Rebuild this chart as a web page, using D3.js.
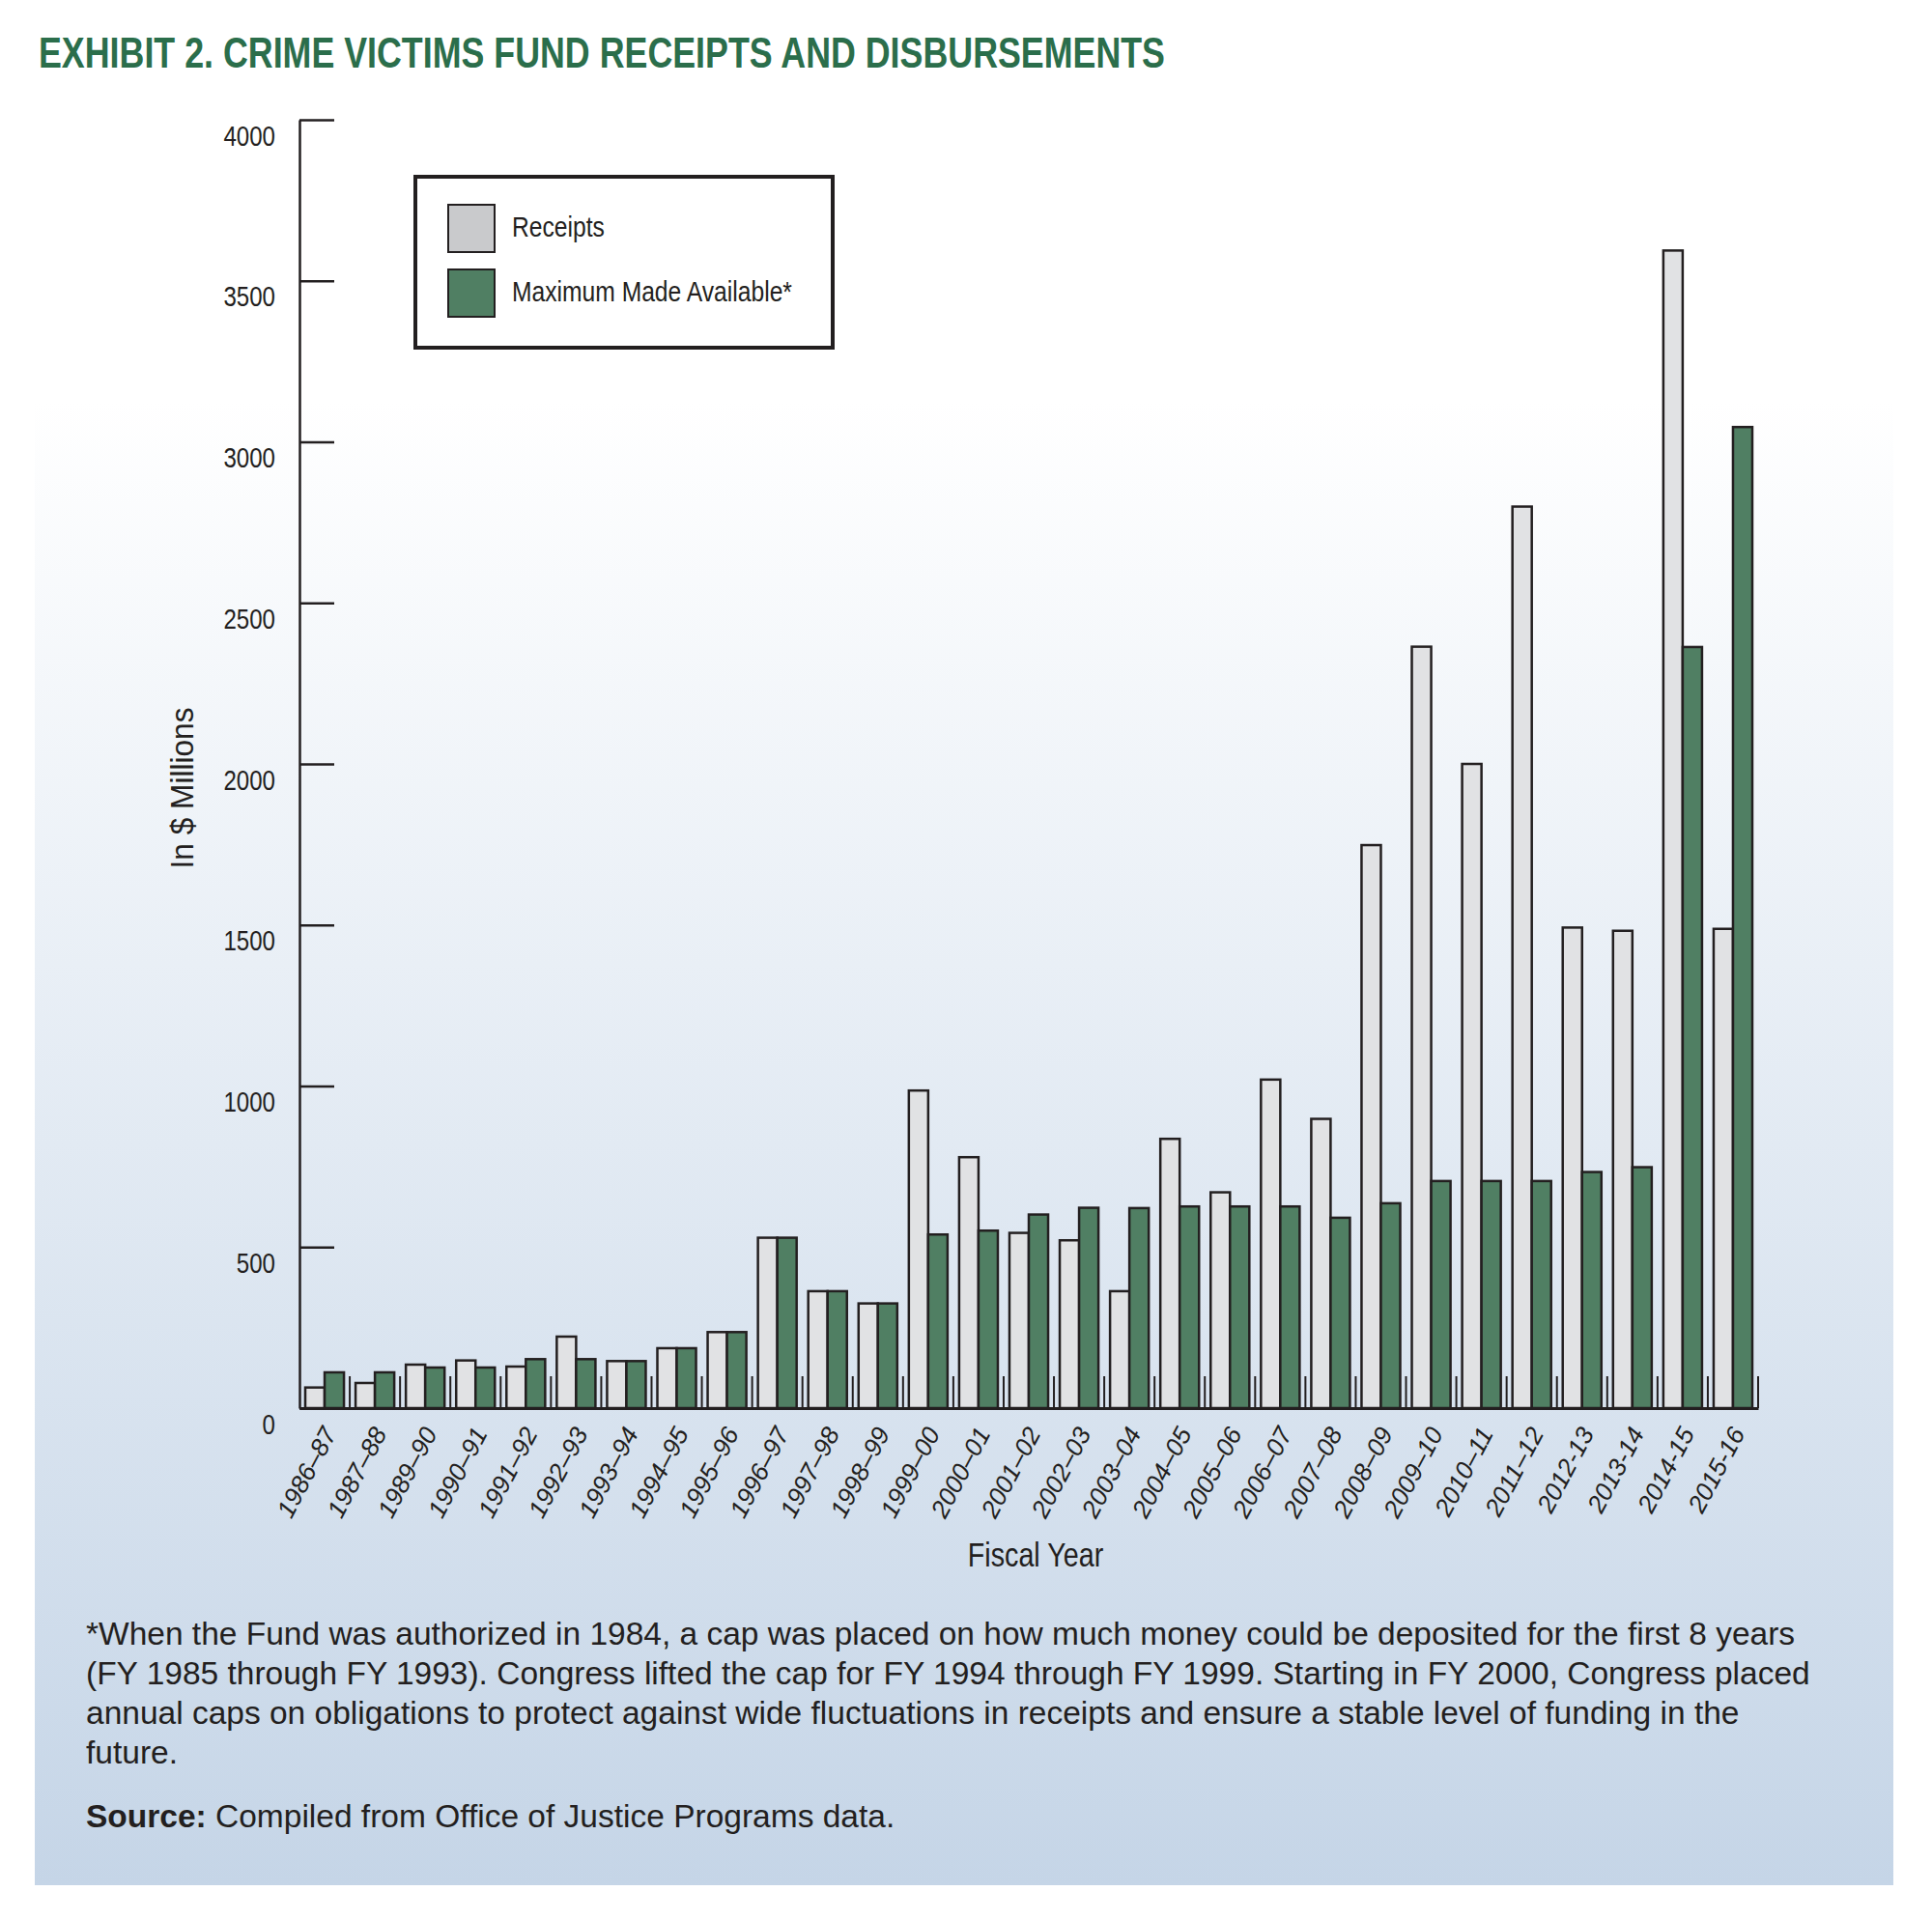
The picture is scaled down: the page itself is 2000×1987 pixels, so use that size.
<!DOCTYPE html>
<html>
<head>
<meta charset="utf-8">
<script src="https://cdn.jsdelivr.net/npm/d3@7/dist/d3.min.js"></script>
<style>
  html, body { margin: 0; padding: 0; background: #ffffff; }
  svg { display: block; }
</style>
</head>
<body>
<script>
// ---- data ----
const categories = ["1986–87","1987–88","1989–90","1990–91","1991–92","1992–93","1993–94","1994–95","1995–96","1996–97","1997–98","1998–99","1999–00","2000–01","2001–02","2002–03","2003–04","2004–05","2005–06","2006–07","2007–08","2008–09","2009–10","2010–11","2011–12","2012-13","2013-14","2014-15","2015-16"];
const receipts = [64, 78, 135, 148, 129, 222, 146, 186, 236, 529, 363, 325, 986, 779, 544, 521, 363, 836, 670, 1020, 898, 1748, 2364, 2000, 2799, 1492, 1482, 3594, 1488];
const maxAvailable = [111, 111, 126, 126, 152, 152, 146, 186, 236, 529, 363, 325, 539, 551, 601, 622, 621, 626, 626, 626, 591, 636, 705, 705, 705, 733, 748, 2363, 3046];
const seriesKeys = ["Receipts", "Maximum Made Available*"];
const yTicks = [0, 500, 1000, 1500, 2000, 2500, 3000, 3500, 4000];
const titleText = "EXHIBIT 2. CRIME VICTIMS FUND RECEIPTS AND DISBURSEMENTS";
const yTitle = "In $ Millions";
const xTitle = "Fiscal Year";
const noteLines = [
  "*When the Fund was authorized in 1984, a cap was placed on how much money could be deposited for the first 8 years",
  "(FY 1985 through FY 1993). Congress lifted the cap for FY 1994 through FY 1999. Starting in FY 2000, Congress placed",
  "annual caps on obligations to protect against wide fluctuations in receipts and ensure a stable level of funding in the",
  "future."
];
const sourceLabel = "Source:";
const sourceText = " Compiled from Office of Justice Programs data.";

// ---- style ----
const W = 2000, H = 1987;
const sans = "'Liberation Sans',Arial,Helvetica,sans-serif";
const ink = "#231f20";
const greenTitle = "#2b6e4b";
const fillR = "#e1e2e4";
const fillG = "#507f63";
const narrowK = 0.83;

const svg = d3.select("body").append("svg").attr("width", W).attr("height", H);

const defs = svg.append("defs");
const grad = defs.append("linearGradient").attr("id", "bg").attr("x1", 0).attr("y1", 0).attr("x2", 0).attr("y2", 1);
grad.append("stop").attr("offset", "0").attr("stop-color", "#ffffff");
grad.append("stop").attr("offset", "0.17").attr("stop-color", "#ffffff");
grad.append("stop").attr("offset", "1").attr("stop-color", "#c5d5e7");

svg.append("rect").attr("x", 36).attr("y", 100).attr("width", 1924).attr("height", 1852).attr("fill", "url(#bg)");

// helper for condensed text
function narrowText(parent, x0, y0, str, size, anchor, k, rot) {
  const g = parent.append("g").attr("transform", `translate(${x0},${y0})` + (rot ? ` rotate(${rot})` : "") + ` scale(${k || narrowK},1)`);
  return g.append("text").attr("x", 0).attr("y", 0).attr("text-anchor", anchor || "start")
    .attr("font-family", sans).attr("font-size", size).attr("fill", ink).text(str);
}

// title
svg.append("text").attr("x", 40).attr("y", 70)
  .attr("font-family", sans).attr("font-weight", "bold").attr("font-size", 45)
  .attr("fill", greenTitle).attr("textLength", 1166).attr("lengthAdjust", "spacingAndGlyphs")
  .text(titleText);

// scales
const x = d3.scaleBand().domain(categories).range([310, 1820]).padding(0);
const xs = d3.scaleBand().domain(seriesKeys).range([0, x.bandwidth()]).paddingInner(0).paddingOuter(0.3);
const y = d3.scaleLinear().domain([0, 4000]).range([1458, 124]);

// y axis
const yAxis = svg.append("g").attr("transform", "translate(310,0)")
  .call(d3.axisLeft(y).tickValues(yTicks).tickSize(-36).tickSizeOuter(0).tickPadding(25).tickFormat(d3.format("d")));
yAxis.select(".domain").attr("stroke", ink).attr("stroke-width", 2.5);
yAxis.selectAll(".tick line").attr("stroke", ink).attr("stroke-width", 2.5);
yAxis.selectAll(".tick text").attr("dy", null).attr("x", 0).attr("y", 0)
  .attr("transform", `translate(-25,26) scale(${narrowK},1)`)
  .attr("font-family", sans).attr("font-size", 29).attr("fill", ink);

// bars
const rows = categories.map((c, i) => ({ c, vals: [receipts[i], maxAvailable[i]] }));
const groups = svg.append("g").selectAll("g").data(rows).join("g")
  .attr("transform", d => `translate(${x(d.c)},0)`);
groups.selectAll("rect").data(d => d.vals.map((v, k) => ({ key: seriesKeys[k], v }))).join("rect")
  .attr("x", d => xs(d.key))
  .attr("width", xs.bandwidth())
  .attr("y", d => y(d.v))
  .attr("height", d => y(0) - y(d.v))
  .attr("fill", d => d.key === seriesKeys[0] ? fillR : fillG)
  .attr("stroke", ink).attr("stroke-width", 2.5);

// group separator ticks
const sepX = categories.slice(1).map(c => x(c)).concat([x.range()[1]]);
svg.append("g").selectAll("line").data(sepX).join("line")
  .attr("x1", d => d).attr("x2", d => d)
  .attr("y1", y(0)).attr("y2", y(0) - 33)
  .attr("stroke", ink).attr("stroke-width", 2);

// x axis
const xAxis = svg.append("g").attr("transform", `translate(0,${y(0)})`)
  .call(d3.axisBottom(x).tickSize(0).tickSizeOuter(0));
xAxis.select(".domain").attr("stroke", ink).attr("stroke-width", 3);
xAxis.selectAll(".tick text")
  .attr("x", 0).attr("y", 0).attr("dy", null)
  .attr("text-anchor", "end")
  .attr("transform", "translate(13,26) rotate(-62)")
  .attr("font-family", sans).attr("font-style", "italic").attr("font-size", 26).attr("fill", ink);

// axis titles
narrowText(svg, 200, 816, yTitle, 34, "middle", 0.93, -90);
narrowText(svg, 1072, 1622, xTitle, 35, "middle", 0.82);

// legend
const lg = svg.append("g");
lg.append("rect").attr("x", 430).attr("y", 183).attr("width", 432).attr("height", 177)
  .attr("fill", "#ffffff").attr("stroke", ink).attr("stroke-width", 4);
const legendFill = ["#c9cacc", fillG];
seriesKeys.forEach((k, i) => {
  lg.append("rect").attr("x", 464).attr("y", 212 + i * 67).attr("width", 48).attr("height", 49)
    .attr("fill", legendFill[i]).attr("stroke", ink).attr("stroke-width", 2);
  narrowText(lg, 530, 245 + i * 67, k, 29, "start", 0.85);
});

// notes
const notes = svg.append("g").attr("font-family", sans).attr("font-size", 33.5).attr("fill", ink);
noteLines.forEach((t, i) => {
  notes.append("text").attr("x", 89).attr("y", 1703 + i * 41).text(t);
});
const src = notes.append("text").attr("x", 89).attr("y", 1892);
src.append("tspan").attr("font-weight", "bold").text(sourceLabel);
src.append("tspan").text(sourceText);
</script>
</body>
</html>
